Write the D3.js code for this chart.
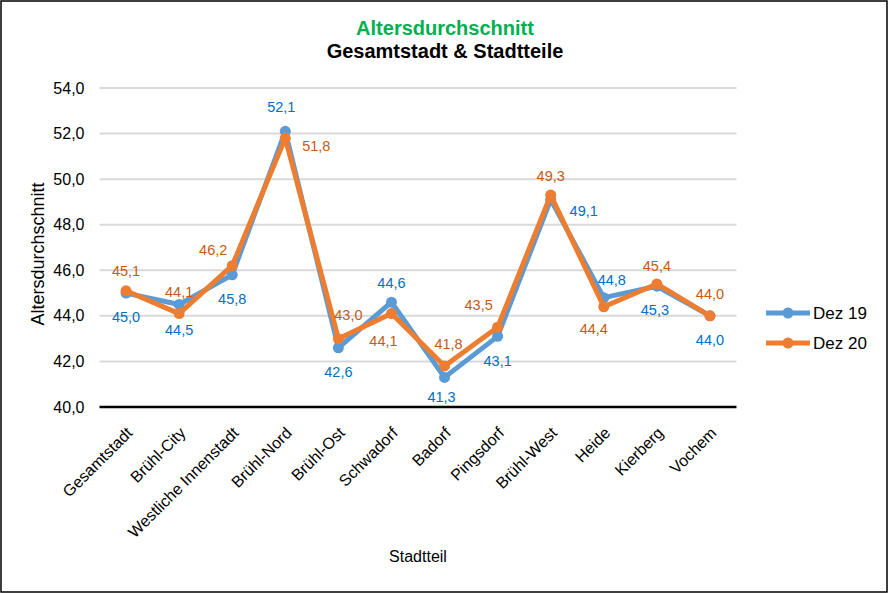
<!DOCTYPE html>
<html>
<head>
<meta charset="utf-8">
<script src="https://cdn.jsdelivr.net/npm/d3@7"></script>
<style>
  body { margin: 0; background: #fff; }
  svg { font-family: "Liberation Sans", Arial, sans-serif; display: block; }
</style>
</head>
<body>
<div id="chart"></div>
<script>
var categories = ['Gesamtstadt', 'Brühl-City', 'Westliche Innenstadt', 'Brühl-Nord', 'Brühl-Ost',
  'Schwadorf', 'Badorf', 'Pingsdorf', 'Brühl-West', 'Heide', 'Kierberg', 'Vochem']
var dez19 = [45.0, 44.5, 45.8, 52.1, 42.6, 44.6, 41.3, 43.1, 49.1, 44.8, 45.3, 44.0]
var dez20 = [45.1, 44.1, 46.2, 51.8, 43.0, 44.1, 41.8, 43.5, 49.3, 44.4, 45.4, 44.0]
var yTicks = [40, 42, 44, 46, 48, 50, 52, 54]
var seriesNames = ['Dez 19', 'Dez 20']

// where each data label sits relative to its point (dx, dy)
var lbl19 = [[0,24],[0,25],[0,24],[-4,-24],[0,24],[0,-19],[-3,20],[0,25],[33,11],[8,-18],[-2,24],[0,24]]
var lbl20 = [[0,-20],[0,-22],[-19,-16],[31,8],[10,-24],[-8,27],[4,-22],[-19,-22],[0,-19],[-10,22],[0,-18],[0,-22]]

var W = 888, H = 593
var blue = '#5B9BD5', orange = '#ED7D31'
var blueTxt = '#0070C0', orangeTxt = '#C55A11'

var de = d3.formatLocale({decimal: ',', thousands: '.', grouping: [3], currency: ['', '€']})
var fmt = de.format('.1f')

var svg = d3.select('#chart').append('svg').attr('width', W).attr('height', H)

svg.append('rect')
  .attr('x', 1).attr('y', 1).attr('width', W - 2).attr('height', H - 2)
  .attr('fill', '#fff').attr('stroke', '#000').attr('stroke-width', 1.5)

var x = d3.scalePoint().domain(categories).range([99.5, 736.5]).padding(0.5)
var y = d3.scaleLinear().domain([40, 54]).range([407, 88])

// titles
svg.append('text')
  .attr('x', 445).attr('y', 35).attr('text-anchor', 'middle')
  .attr('font-size', 20).attr('font-weight', 'bold').attr('fill', '#00B050')
  .text('Altersdurchschnitt')
svg.append('text')
  .attr('x', 445).attr('y', 58).attr('text-anchor', 'middle')
  .attr('font-size', 20).attr('font-weight', 'bold').attr('fill', '#000')
  .text('Gesamtstadt & Stadtteile')

// grid
svg.append('g').selectAll('line').data(yTicks.filter(function(d){ return d > 40 }))
  .join('line')
  .attr('x1', 99.5).attr('x2', 736.5)
  .attr('y1', function(d){ return y(d) }).attr('y2', function(d){ return y(d) })
  .attr('stroke', '#D9D9D9').attr('stroke-width', 2)

// y axis
var yAxis = svg.append('g')
  .attr('transform', 'translate(99.5,0)')
  .call(d3.axisLeft(y).tickValues(yTicks).tickSize(0).tickPadding(15).tickFormat(fmt))
yAxis.select('.domain').remove()
yAxis.selectAll('text').attr('font-size', 16).attr('fill', '#000')
  .style('font-family', '"Liberation Sans", Arial, sans-serif')

// x axis
var xAxis = svg.append('g')
  .attr('transform', 'translate(0,' + y(40) + ')')
  .call(d3.axisBottom(x).tickSize(0).tickPadding(0))
xAxis.select('.domain').attr('stroke', '#000').attr('stroke-width', 2.5)
  .attr('d', 'M99.5,0H736.5')
xAxis.selectAll('text')
  .attr('font-size', 16).attr('fill', '#000')
  .style('font-family', '"Liberation Sans", Arial, sans-serif')
  .attr('text-anchor', 'end')
  .attr('y', 0).attr('dy', '0.35em')
  .attr('transform', 'translate(3,23) rotate(-45)')

svg.append('text')
  .attr('transform', 'translate(44,254) rotate(-90)')
  .attr('text-anchor', 'middle').attr('font-size', 18)
  .text('Altersdurchschnitt')
svg.append('text')
  .attr('x', 418).attr('y', 562).attr('text-anchor', 'middle').attr('font-size', 16)
  .text('Stadtteil')

// series
var series = [
  {name: seriesNames[0], values: dez19, color: blue, txt: blueTxt, lbl: lbl19},
  {name: seriesNames[1], values: dez20, color: orange, txt: orangeTxt, lbl: lbl20}
]

var line = d3.line()
  .x(function(d, i){ return x(categories[i]) })
  .y(function(d){ return y(d) })

series.forEach(function(s){
  var g = svg.append('g')
  g.append('path')
    .attr('d', line(s.values))
    .attr('fill', 'none').attr('stroke', s.color).attr('stroke-width', 5)
    .attr('stroke-linejoin', 'round')
  g.selectAll('circle').data(s.values).join('circle')
    .attr('cx', function(d, i){ return x(categories[i]) })
    .attr('cy', function(d){ return y(d) })
    .attr('r', 5.5).attr('fill', s.color)
})

series.forEach(function(s){
  svg.append('g').selectAll('text').data(s.values).join('text')
    .attr('x', function(d, i){ return x(categories[i]) + s.lbl[i][0] })
    .attr('y', function(d, i){ return y(d) + s.lbl[i][1] })
    .attr('dy', '0.35em').attr('text-anchor', 'middle')
    .attr('font-size', 14.5).attr('fill', s.txt)
    .text(function(d){ return fmt(d) })
})

// legend
var legend = svg.append('g').selectAll('g').data(series).join('g')
  .attr('transform', function(d, i){ return 'translate(766,' + (313 + i * 30) + ')' })
legend.append('line')
  .attr('x1', 0).attr('x2', 44)
  .attr('stroke', function(d){ return d.color }).attr('stroke-width', 5)
legend.append('circle')
  .attr('cx', 22).attr('r', 5.5).attr('fill', function(d){ return d.color })
legend.append('text')
  .attr('x', 47).attr('dy', '0.35em').attr('font-size', 17)
  .text(function(d){ return d.name })
</script>
</body>
</html>
